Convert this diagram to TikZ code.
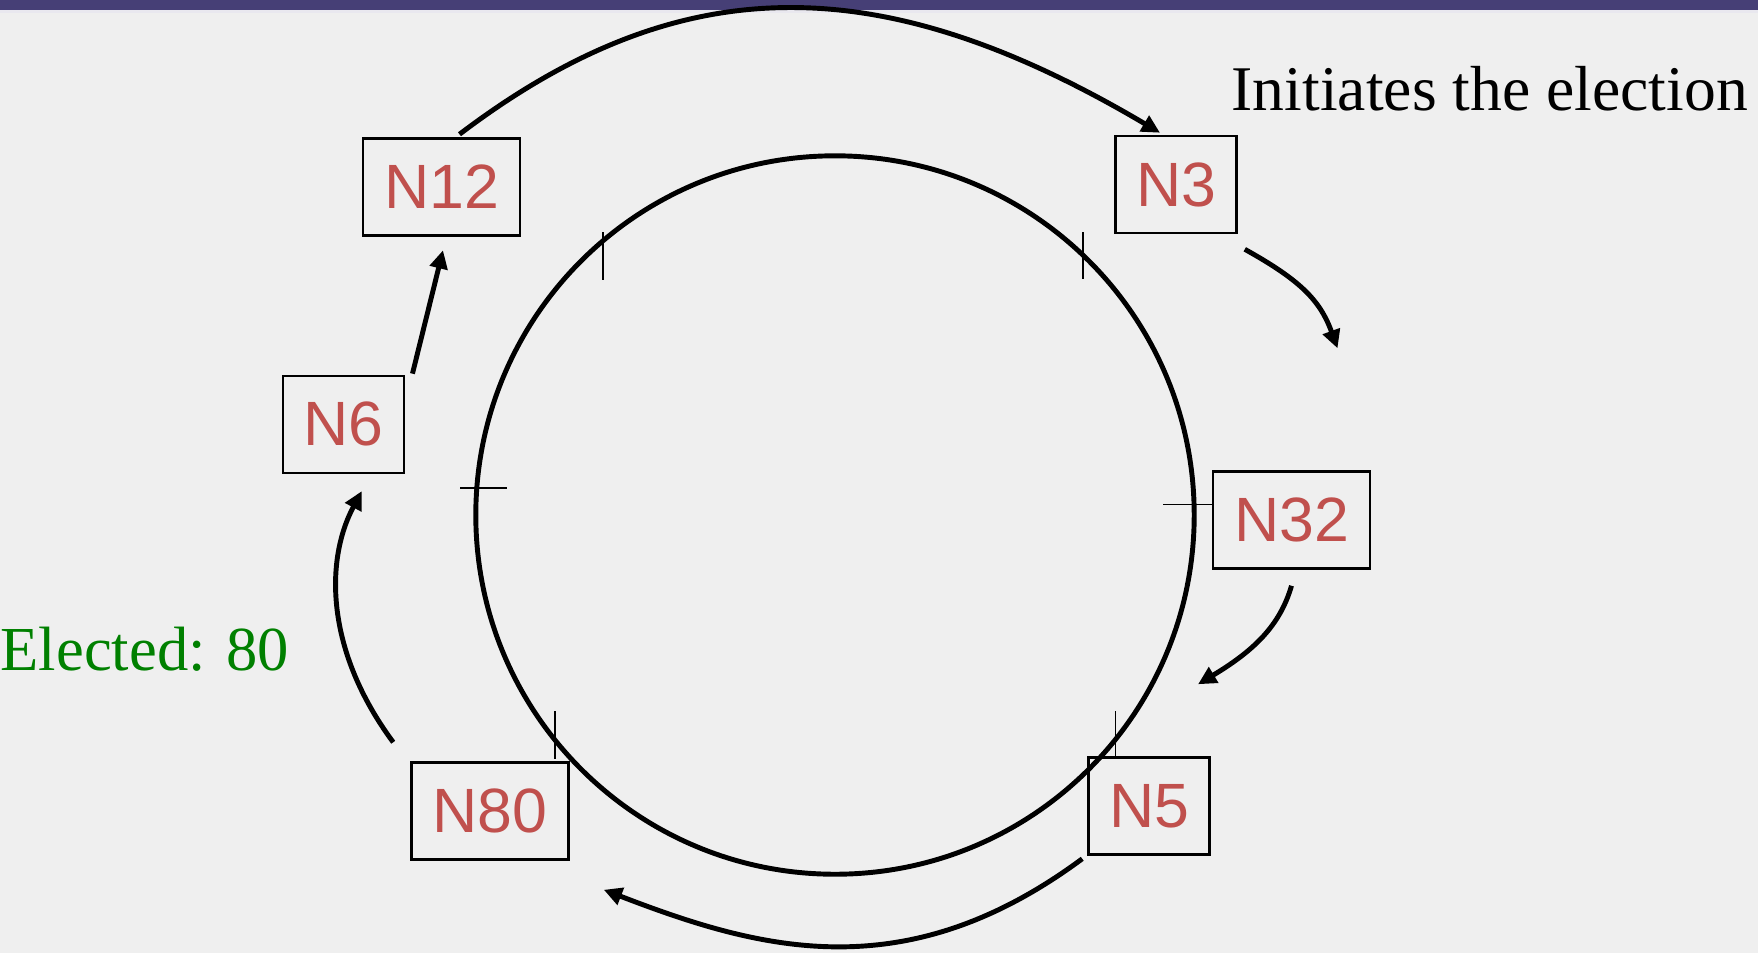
\documentclass[tikz,border=0pt]{standalone}
\usepackage{fontspec}
\setmainfont{Liberation Serif}
\setsansfont{Liberation Sans}
\usepackage{tikz}
\usetikzlibrary{arrows.meta,calc}
\definecolor{barpurple}{RGB}{70,63,118}
\definecolor{pagegray}{RGB}{239,239,239}
\definecolor{nodered}{RGB}{192,80,77}
\definecolor{electgreen}{RGB}{0,128,0}
\tikzset{
 ringnode/.style={
 rectangle,
 draw=black,
 line width=0.7pt,
 text=nodered,
 inner sep=0pt,
 minimum width=1.21cm,
 minimum height=0.97cm,
 font=\sffamily\fontsize{17.8}{20}\selectfont
 },
 widenode/.style={ringnode, minimum width=1.57cm},
 notetext/.style={anchor=base west, inner sep=0pt, font=\fontsize{17.8}{21}\selectfont},
 ringtick/.style={line width=0.4pt},
 ringarrow/.style={-{Triangle[length=5.2pt,width=5pt]}, line width=1.4pt}
}

\begin{document}
\begin{tikzpicture}[x=0.01cm,y=-0.01cm]
 \useasboundingbox (0,0) rectangle (1758,953);
 \fill[pagegray] (0,0) rectangle (1758,953);
 \fill[barpurple] (0,0) rectangle (1758,10);
 \fill[barpurple!12] (0,10) rectangle (1758,13);

 % the ring
 \coordinate (ctr) at (835,515);
 \draw[line width=1.4pt] (ctr) circle[radius=3.59cm];
 \draw[ringtick] (603,232) -- (603,280);
 \draw[ringtick] (1083,232) -- (1083,279);
 \draw[ringtick] (460,488) -- (507,488);
 \draw[ringtick] (1163,504.5) -- (1212,504.5);
 \draw[ringtick] (555,711) -- (555,759);
 \draw[ringtick] (1115.6,711) -- (1115.6,759);

 % processes
 \node[widenode] (n12) at (441.5,187) {N12};
 \node[ringnode] (n3) at (1176,184.5) {N3};
 \node[widenode] (n32) at (1291.5,520) {N32};
 \node[ringnode] (n5) at (1149,806) {N5};
 \node[widenode] (n80) at (490,811) {N80};
 \node[ringnode] (n6) at (343.7,424.4) {N6};

 \node[notetext, font=\fontsize{18.1}{21}\selectfont] (initiator) at (1231,110) {Initiates the election};
 \node[notetext, text=electgreen] (elected) at (0,670) {Elected: 80};

 % messages around the ring
 \draw[ringarrow] ($(n12.north)+(18,-3)$) .. controls (680,-33) and (880,-33) .. ($(n3.north)+(-16,-2)$);
 \draw[ringarrow] ($(n3.south east)+(7,15)$) .. controls (1300,280) and (1320,300) .. ($(n32.north)+(46,-122)$);
 \draw[ringarrow] ($(n32.south)+(0,16)$) .. controls (1280,625) and (1255,650) .. ($(n5.north)+(49,-72)$);
 \draw[ringarrow] ($(n5.south west)+(-5,3)$) .. controls (905,990) and (760,950) .. ($(n80.south east)+(34,29)$);
 \draw[ringarrow] ($(n80.north west)+(-17,-19)$) .. controls (325,650) and (325,560) .. ($(n6.south)+(18,17)$);
 \draw[ringarrow] ($(n6.north east)+(7,-1)$) -- ($(n12.south)+(1.5,13.5)$);
\end{tikzpicture}
\end{document}
